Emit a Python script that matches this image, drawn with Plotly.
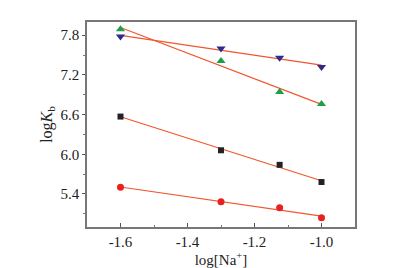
import numpy as np
import plotly.graph_objects as go

x_vals = [-1.6, -1.3, -1.125, -1.0]
green_tri = [7.89, 7.41, 6.94, 6.76]
navy_tri = [7.78, 7.60, 7.46, 7.32]
black_sq = [6.57, 6.06, 5.84, 5.58]
red_circ = [5.50, 5.28, 5.19, 5.04]

y_ticks = [5.4, 6.0, 6.6, 7.2, 7.8]
x_ticks = [-1.6, -1.4, -1.2, -1.0]

series = [
    (black_sq, "square", "#222222", 6),
    (red_circ, "circle", "#e82020", 7),
    (green_tri, "triangle-up", "#1f9e4a", 8),
    (navy_tri, "triangle-down", "#2b2b8c", 8),
]

fig = go.Figure()
line_color = "#f2562e"
xs = np.array(x_vals)
for ys, sym, col, sz in series:
    k, b = np.polyfit(xs, np.array(ys), 1)
    xl = np.array([xs.min(), xs.max()])
    fig.add_trace(go.Scatter(x=xl, y=k * xl + b, mode="lines",
                             line=dict(color=line_color, width=1.2),
                             showlegend=False, hoverinfo="skip"))
for ys, sym, col, sz in series:
    fig.add_trace(go.Scatter(x=x_vals, y=ys, mode="markers",
                             marker=dict(symbol=sym, color=col, size=sz),
                             showlegend=False))

fam = "Liberation Serif"
font = dict(family=fam, size=14, color="#222")
fig.update_layout(
    width=404, height=268,
    margin=dict(l=79, r=57, t=14, b=49),
    paper_bgcolor="white", plot_bgcolor="white",
    font=font,
    xaxis=dict(range=[-1.7, -0.9], tickvals=x_ticks,
               ticktext=[f"{v:.1f}" for v in x_ticks],
               showgrid=False, zeroline=False,
               showline=True, linecolor="#777", linewidth=1.5, mirror=True,
               ticks="inside", ticklen=4, tickcolor="#555",
               minor=dict(dtick=0.1, ticks="inside", ticklen=2, tickcolor="#777"),
               title=dict(text="log[Na<sup>+</sup>]", standoff=4,
                          font=dict(family=fam, size=15, color="#222")),
               tickfont=dict(family=fam, size=15, color="#222")),
    yaxis=dict(range=[4.9, 8.0], tickvals=y_ticks,
               ticktext=[f"{v:.1f}" for v in y_ticks],
               showgrid=False, zeroline=False,
               showline=True, linecolor="#777", linewidth=1.5, mirror=True,
               ticks="outside", ticklen=3, tickcolor="#555",
               minor=dict(dtick=0.3, ticks="outside", ticklen=2, tickcolor="#777"),
               title=dict(text="log<i>K</i><sub>b</sub>", standoff=4,
                          font=dict(family=fam, size=16, color="#222")),
               tickfont=dict(family=fam, size=15, color="#222")),
)

fig.write_html("out.html")
